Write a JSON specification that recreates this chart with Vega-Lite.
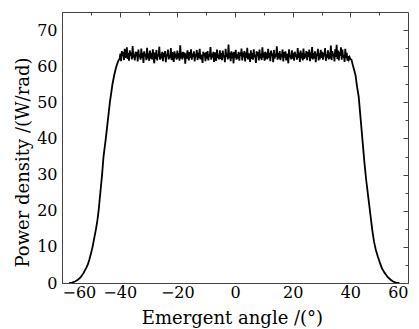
{
  "$schema": "https://vega.github.io/schema/vega-lite/v6.json",
  "width": 346,
  "height": 271,
  "autosize": "none",
  "padding": {"left": 62, "top": 12, "right": 11, "bottom": 46},
  "background": "white",
  "config": {
    "view": {"stroke": "#444", "strokeWidth": 1},
    "font": "DejaVu Serif",
    "axis": {
      "grid": false,
      "zindex": 1,
      "domainColor": "#444",
      "tickColor": "#444",
      "tickWidth": 1,
      "labelFont": "DejaVu Serif",
      "titleFont": "DejaVu Serif",
      "labelColor": "black",
      "titleColor": "black",
      "titleFontWeight": "normal",
      "labelFontSize": 16,
      "titleFontSize": 18
    }
  },
  "data": {"values": [
    {"x": -57.5, "y": 0}, {"x": -56.5, "y": 0.1}, {"x": -55.5, "y": 0.4}, {"x": -54.5, "y": 0.9}, {"x": -53.5, "y": 1.6},
    {"x": -52.5, "y": 2.8}, {"x": -51.5, "y": 4.3}, {"x": -51.0, "y": 5.2}, {"x": -50.5, "y": 6.5}, {"x": -50.0, "y": 8.0},
    {"x": -49.4, "y": 10}, {"x": -48.8, "y": 12.5}, {"x": -48.2, "y": 15}, {"x": -47.7, "y": 17.5}, {"x": -47.3, "y": 20},
    {"x": -47.0, "y": 22.5}, {"x": -46.7, "y": 25}, {"x": -46.4, "y": 27.5}, {"x": -46.1, "y": 30}, {"x": -45.85, "y": 32.5},
    {"x": -45.6, "y": 35}, {"x": -45.2, "y": 37.5}, {"x": -44.8, "y": 40}, {"x": -44.45, "y": 42.5}, {"x": -44.1, "y": 45},
    {"x": -43.75, "y": 47.5}, {"x": -43.4, "y": 50}, {"x": -42.95, "y": 52.5}, {"x": -42.5, "y": 55}, {"x": -41.9, "y": 57.5},
    {"x": -41.3, "y": 59.5}, {"x": -40.8, "y": 60.8}, {"x": -40.4, "y": 61.6},
    {"x": -40.0, "y": 62.1}, {"x": -39.75, "y": 63.5}, {"x": -39.5, "y": 61.4}, {"x": -39.25, "y": 64.2}, {"x": -39.0, "y": 62.8},
    {"x": -38.75, "y": 63.9}, {"x": -38.5, "y": 61.7}, {"x": -38.25, "y": 64.8}, {"x": -38.0, "y": 62.3}, {"x": -37.75, "y": 63.1},
    {"x": -37.5, "y": 65.2}, {"x": -37.25, "y": 62.0}, {"x": -37.0, "y": 63.6}, {"x": -36.75, "y": 61.5}, {"x": -36.5, "y": 64.4},
    {"x": -36.25, "y": 62.9}, {"x": -36.0, "y": 63.8}, {"x": -35.75, "y": 61.9}, {"x": -35.5, "y": 65.6}, {"x": -35.25, "y": 62.4},
    {"x": -35.0, "y": 63.2}, {"x": -34.75, "y": 61.6}, {"x": -34.5, "y": 64.0}, {"x": -34.25, "y": 62.7}, {"x": -34.0, "y": 63.9},
    {"x": -33.75, "y": 61.3}, {"x": -33.5, "y": 64.6}, {"x": -33.25, "y": 62.5}, {"x": -33.0, "y": 63.3}, {"x": -32.75, "y": 61.8},
    {"x": -32.5, "y": 64.9}, {"x": -32.25, "y": 62.2}, {"x": -32.0, "y": 63.7}, {"x": -31.75, "y": 60.9}, {"x": -31.5, "y": 64.1},
    {"x": -31.25, "y": 62.8}, {"x": -31.0, "y": 63.4}, {"x": -30.75, "y": 61.7}, {"x": -30.5, "y": 65.1}, {"x": -30.25, "y": 62.6},
    {"x": -30.0, "y": 63.0}, {"x": -29.75, "y": 61.5}, {"x": -29.5, "y": 64.3}, {"x": -29.25, "y": 62.1}, {"x": -29.0, "y": 63.6},
    {"x": -28.75, "y": 61.9}, {"x": -28.5, "y": 64.7}, {"x": -28.25, "y": 62.4}, {"x": -28.0, "y": 60.8}, {"x": -27.75, "y": 63.8},
    {"x": -27.5, "y": 62.0}, {"x": -27.25, "y": 64.5}, {"x": -27.0, "y": 61.6}, {"x": -26.75, "y": 63.2}, {"x": -26.5, "y": 62.7},
    {"x": -26.25, "y": 65.4}, {"x": -26.0, "y": 61.8}, {"x": -25.75, "y": 63.5}, {"x": -25.5, "y": 62.2}, {"x": -25.25, "y": 64.0},
    {"x": -25.0, "y": 61.4}, {"x": -24.75, "y": 63.7}, {"x": -24.5, "y": 62.5}, {"x": -24.25, "y": 64.2}, {"x": -24.0, "y": 61.1},
    {"x": -23.75, "y": 63.3}, {"x": -23.5, "y": 62.8}, {"x": -23.25, "y": 64.6}, {"x": -23.0, "y": 61.9}, {"x": -22.75, "y": 63.0},
    {"x": -22.5, "y": 62.3}, {"x": -22.25, "y": 65.0}, {"x": -22.0, "y": 61.7}, {"x": -21.75, "y": 63.9}, {"x": -21.5, "y": 62.6},
    {"x": -21.25, "y": 61.2}, {"x": -21.0, "y": 64.1}, {"x": -20.75, "y": 62.9}, {"x": -20.5, "y": 63.4}, {"x": -20.25, "y": 61.8},
    {"x": -20.0, "y": 64.3}, {"x": -19.75, "y": 62.2}, {"x": -19.5, "y": 63.6}, {"x": -19.25, "y": 61.5}, {"x": -19.0, "y": 65.8},
    {"x": -18.75, "y": 62.7}, {"x": -18.5, "y": 63.1}, {"x": -18.25, "y": 61.9}, {"x": -18.0, "y": 64.0}, {"x": -17.75, "y": 62.4},
    {"x": -17.5, "y": 63.8}, {"x": -17.25, "y": 60.7}, {"x": -17.0, "y": 63.5}, {"x": -16.75, "y": 62.1}, {"x": -16.5, "y": 64.4},
    {"x": -16.25, "y": 62.8}, {"x": -16.0, "y": 61.6}, {"x": -15.75, "y": 63.9}, {"x": -15.5, "y": 62.3}, {"x": -15.25, "y": 64.7},
    {"x": -15.0, "y": 61.8}, {"x": -14.75, "y": 63.4}, {"x": -14.5, "y": 62.6}, {"x": -14.25, "y": 64.1}, {"x": -14.0, "y": 61.3},
    {"x": -13.75, "y": 63.0}, {"x": -13.5, "y": 62.9}, {"x": -13.25, "y": 64.5}, {"x": -13.0, "y": 61.7}, {"x": -12.75, "y": 63.7},
    {"x": -12.5, "y": 62.2}, {"x": -12.25, "y": 64.8}, {"x": -12.0, "y": 61.9}, {"x": -11.75, "y": 63.2}, {"x": -11.5, "y": 62.5},
    {"x": -11.25, "y": 60.9}, {"x": -11.0, "y": 64.0}, {"x": -10.75, "y": 62.8}, {"x": -10.5, "y": 63.6}, {"x": -10.25, "y": 61.4},
    {"x": -10.0, "y": 63.9}, {"x": -9.75, "y": 62.1}, {"x": -9.5, "y": 64.2}, {"x": -9.25, "y": 61.6}, {"x": -9.0, "y": 63.3},
    {"x": -8.75, "y": 62.7}, {"x": -8.5, "y": 65.3}, {"x": -8.25, "y": 61.8}, {"x": -8.0, "y": 63.5}, {"x": -7.75, "y": 62.4},
    {"x": -7.5, "y": 64.0}, {"x": -7.25, "y": 61.2}, {"x": -7.0, "y": 63.8}, {"x": -6.75, "y": 62.9}, {"x": -6.5, "y": 61.5},
    {"x": -6.25, "y": 64.6}, {"x": -6.0, "y": 62.3}, {"x": -5.75, "y": 63.1}, {"x": -5.5, "y": 61.9}, {"x": -5.25, "y": 64.4},
    {"x": -5.0, "y": 62.0}, {"x": -4.75, "y": 63.6}, {"x": -4.5, "y": 61.7}, {"x": -4.25, "y": 64.3}, {"x": -4.0, "y": 62.5},
    {"x": -3.75, "y": 63.0}, {"x": -3.5, "y": 61.1}, {"x": -3.25, "y": 64.8}, {"x": -3.0, "y": 62.6}, {"x": -2.75, "y": 63.4},
    {"x": -2.5, "y": 61.9}, {"x": -2.25, "y": 66.0}, {"x": -2.0, "y": 62.2}, {"x": -1.75, "y": 63.7}, {"x": -1.5, "y": 61.4},
    {"x": -1.25, "y": 64.1}, {"x": -1.0, "y": 62.8}, {"x": -0.75, "y": 63.2}, {"x": -0.5, "y": 60.8}, {"x": -0.25, "y": 63.9},
    {"x": 0.0, "y": 62.4}, {"x": 0.25, "y": 64.5}, {"x": 0.5, "y": 61.8}, {"x": 0.75, "y": 63.3}, {"x": 1.0, "y": 62.1},
    {"x": 1.25, "y": 64.0}, {"x": 1.5, "y": 61.5}, {"x": 1.75, "y": 63.7}, {"x": 2.0, "y": 62.9}, {"x": 2.25, "y": 64.9},
    {"x": 2.5, "y": 61.6}, {"x": 2.75, "y": 63.1}, {"x": 3.0, "y": 62.6}, {"x": 3.25, "y": 64.2}, {"x": 3.5, "y": 61.3},
    {"x": 3.75, "y": 63.8}, {"x": 4.0, "y": 62.3}, {"x": 4.25, "y": 65.1}, {"x": 4.5, "y": 61.9}, {"x": 4.75, "y": 63.5},
    {"x": 5.0, "y": 62.7}, {"x": 5.25, "y": 61.2}, {"x": 5.5, "y": 64.4}, {"x": 5.75, "y": 62.0}, {"x": 6.0, "y": 63.6},
    {"x": 6.25, "y": 61.8}, {"x": 6.5, "y": 64.7}, {"x": 6.75, "y": 62.5}, {"x": 7.0, "y": 63.2}, {"x": 7.25, "y": 60.9},
    {"x": 7.5, "y": 64.1}, {"x": 7.75, "y": 62.8}, {"x": 8.0, "y": 63.9}, {"x": 8.25, "y": 61.6}, {"x": 8.5, "y": 64.6},
    {"x": 8.75, "y": 62.2}, {"x": 9.0, "y": 63.4}, {"x": 9.25, "y": 61.7}, {"x": 9.5, "y": 65.2}, {"x": 9.75, "y": 62.4},
    {"x": 10.0, "y": 63.8}, {"x": 10.25, "y": 61.5}, {"x": 10.5, "y": 64.0}, {"x": 10.75, "y": 62.6}, {"x": 11.0, "y": 63.1},
    {"x": 11.25, "y": 61.9}, {"x": 11.5, "y": 64.8}, {"x": 11.75, "y": 62.3}, {"x": 12.0, "y": 63.7}, {"x": 12.25, "y": 61.4},
    {"x": 12.5, "y": 64.3}, {"x": 12.75, "y": 62.9}, {"x": 13.0, "y": 63.5}, {"x": 13.25, "y": 61.1}, {"x": 13.5, "y": 64.5},
    {"x": 13.75, "y": 62.1}, {"x": 14.0, "y": 63.3}, {"x": 14.25, "y": 62.7}, {"x": 14.5, "y": 65.5}, {"x": 14.75, "y": 61.8},
    {"x": 15.0, "y": 63.6}, {"x": 15.25, "y": 62.2}, {"x": 15.5, "y": 64.2}, {"x": 15.75, "y": 61.7}, {"x": 16.0, "y": 63.0},
    {"x": 16.25, "y": 62.8}, {"x": 16.5, "y": 64.6}, {"x": 16.75, "y": 61.3}, {"x": 17.0, "y": 63.9}, {"x": 17.25, "y": 62.4},
    {"x": 17.5, "y": 64.1}, {"x": 17.75, "y": 61.6}, {"x": 18.0, "y": 63.4}, {"x": 18.25, "y": 62.9}, {"x": 18.5, "y": 60.8},
    {"x": 18.75, "y": 64.7}, {"x": 19.0, "y": 62.5}, {"x": 19.25, "y": 63.2}, {"x": 19.5, "y": 61.9}, {"x": 19.75, "y": 64.4},
    {"x": 20.0, "y": 62.1}, {"x": 20.25, "y": 63.7}, {"x": 20.5, "y": 61.5}, {"x": 20.75, "y": 64.0}, {"x": 21.0, "y": 62.6},
    {"x": 21.25, "y": 63.3}, {"x": 21.5, "y": 61.8}, {"x": 21.75, "y": 65.0}, {"x": 22.0, "y": 62.3}, {"x": 22.25, "y": 63.8},
    {"x": 22.5, "y": 61.2}, {"x": 22.75, "y": 64.3}, {"x": 23.0, "y": 62.7}, {"x": 23.25, "y": 63.1}, {"x": 23.5, "y": 61.6},
    {"x": 23.75, "y": 64.9}, {"x": 24.0, "y": 62.0}, {"x": 24.25, "y": 63.5}, {"x": 24.5, "y": 62.4}, {"x": 24.75, "y": 64.2},
    {"x": 25.0, "y": 61.7}, {"x": 25.25, "y": 63.9}, {"x": 25.5, "y": 62.5}, {"x": 25.75, "y": 64.6}, {"x": 26.0, "y": 61.4},
    {"x": 26.25, "y": 63.2}, {"x": 26.5, "y": 62.8}, {"x": 26.75, "y": 65.3}, {"x": 27.0, "y": 61.9}, {"x": 27.25, "y": 63.6},
    {"x": 27.5, "y": 62.2}, {"x": 27.75, "y": 64.1}, {"x": 28.0, "y": 61.1}, {"x": 28.25, "y": 63.4}, {"x": 28.5, "y": 62.9},
    {"x": 28.75, "y": 64.8}, {"x": 29.0, "y": 61.6}, {"x": 29.25, "y": 63.0}, {"x": 29.5, "y": 62.6}, {"x": 29.75, "y": 64.5},
    {"x": 30.0, "y": 62.3}, {"x": 30.25, "y": 64.0}, {"x": 30.5, "y": 61.8}, {"x": 30.75, "y": 63.7}, {"x": 31.0, "y": 62.7},
    {"x": 31.25, "y": 65.0}, {"x": 31.5, "y": 61.5}, {"x": 31.75, "y": 63.3}, {"x": 32.0, "y": 62.4}, {"x": 32.25, "y": 64.4},
    {"x": 32.5, "y": 61.9}, {"x": 32.75, "y": 63.8}, {"x": 33.0, "y": 62.1}, {"x": 33.25, "y": 65.7}, {"x": 33.5, "y": 61.7},
    {"x": 33.75, "y": 64.2}, {"x": 34.0, "y": 62.8}, {"x": 34.25, "y": 63.5}, {"x": 34.5, "y": 61.3}, {"x": 34.75, "y": 64.7},
    {"x": 35.0, "y": 62.6}, {"x": 35.25, "y": 65.9}, {"x": 35.5, "y": 62.0}, {"x": 35.75, "y": 64.3}, {"x": 36.0, "y": 61.6},
    {"x": 36.25, "y": 63.9}, {"x": 36.5, "y": 62.9}, {"x": 36.75, "y": 65.2}, {"x": 37.0, "y": 61.8}, {"x": 37.25, "y": 64.6},
    {"x": 37.5, "y": 62.4}, {"x": 37.75, "y": 63.1}, {"x": 38.0, "y": 61.2}, {"x": 38.25, "y": 64.8}, {"x": 38.5, "y": 62.2},
    {"x": 38.75, "y": 63.7}, {"x": 39.0, "y": 61.5}, {"x": 39.25, "y": 62.8}, {"x": 39.5, "y": 61.9}, {"x": 39.75, "y": 62.5},
    {"x": 40.0, "y": 62.0},
    {"x": 40.4, "y": 61.8}, {"x": 40.8, "y": 60.5}, {"x": 41.3, "y": 59}, {"x": 41.8, "y": 57.5}, {"x": 42.3, "y": 54.5},
    {"x": 42.9, "y": 51.6}, {"x": 43.4, "y": 47}, {"x": 43.9, "y": 42.4}, {"x": 44.4, "y": 37.8}, {"x": 44.9, "y": 33.2},
    {"x": 45.5, "y": 28.5}, {"x": 46.2, "y": 23.9}, {"x": 46.9, "y": 19.3}, {"x": 47.6, "y": 14.7}, {"x": 48.2, "y": 11.5},
    {"x": 48.8, "y": 9.3}, {"x": 49.5, "y": 7.4}, {"x": 50.3, "y": 5.5}, {"x": 51.0, "y": 4.0}, {"x": 51.9, "y": 2.8},
    {"x": 53.0, "y": 1.6}, {"x": 54.0, "y": 0.9}, {"x": 54.8, "y": 0.4}, {"x": 55.8, "y": 0.1}, {"x": 57.0, "y": 0}
  ]},
  "resolve": {"axis": {"x": "independent", "y": "independent"}},
  "layer": [
    {
      "mark": {"type": "line", "color": "black", "strokeWidth": 1.8, "clip": true},
      "encoding": {
        "x": {"field": "x", "type": "quantitative",
          "scale": {"domain": [-60, 60], "nice": false, "zero": false},
          "axis": {"values": [-60, -40, -20, 0, 20, 40, 60], "ticks": false, "labelPadding": 1,
                   "title": "Emergent angle /(°)", "titleBaseline": "alphabetic", "titleY": 40, "titleX": 170}},
        "y": {"field": "y", "type": "quantitative",
          "scale": {"domain": [0, 75], "nice": false},
          "axis": {"values": [0, 10, 20, 30, 40, 50, 60, 70], "ticks": false, "labelPadding": 5,
                   "title": "Power density /(W/rad)", "titleBaseline": "alphabetic", "titleX": -34, "titleY": 150, "titleAngle": -90, "titleAlign": "center"}}
      }
    },
    {
      "mark": {"type": "point", "opacity": 0},
      "encoding": {
        "x": {"field": "x", "type": "quantitative",
          "axis": {"values": [-40, -20, 0, 20, 40], "tickSize": 5, "offset": -5, "labels": false, "domain": false, "title": null}},
        "y": {"field": "y", "type": "quantitative",
          "axis": {"values": [10, 20, 30, 40, 50, 60, 70], "tickSize": 5, "offset": -5, "labels": false, "domain": false, "title": null}}
      }
    },
    {
      "mark": {"type": "point", "opacity": 0},
      "encoding": {
        "x": {"field": "x", "type": "quantitative",
          "axis": {"values": [-50, -30, -10, 10, 30, 50], "tickSize": 3, "offset": -3, "labels": false, "domain": false, "title": null}},
        "y": {"field": "y", "type": "quantitative",
          "axis": {"values": [5, 15, 25, 35, 45, 55, 65], "tickSize": 3, "offset": -3, "labels": false, "domain": false, "title": null}}
      }
    }
  ]
}
